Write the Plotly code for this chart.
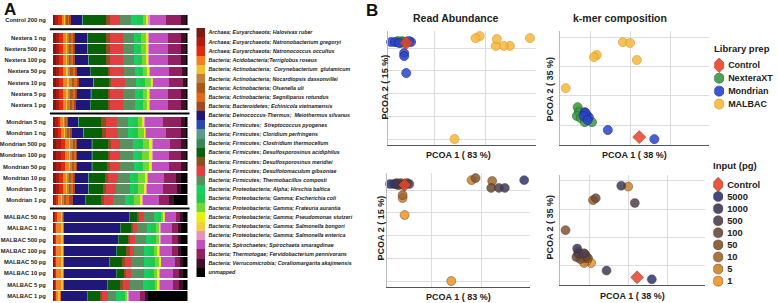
import plotly.graph_objects as go

W, H = 778, 303

# ---------------- data ----------------
samples = ["Control 200 ng",
           "Nextera 1 ng", "Nextera 500 pg", "Nextera 100 pg", "Nextera 50 pg", "Nextera 10 pg", "Nextera 5 pg", "Nextera 1 pg",
           "Mondrian 5 ng", "Mondrian 1 ng", "Mondrian 500 pg", "Mondrian 100 pg", "Mondrian 50 pg", "Mondrian 10 pg", "Mondrian 5 pg", "Mondrian 1 pg",
           "MALBAC 50 ng", "MALBAC 1 ng", "MALBAC 500 pg", "MALBAC 100 pg", "MALBAC 50 pg", "MALBAC 10 pg", "MALBAC 5 pg", "MALBAC 1 pg"]
sample_prep = ["Control"] + ["NexteraXT"] * 7 + ["Mondrian"] * 8 + ["MALBAC"] * 8
sample_input = ["Control", "1000", "500", "100", "50", "10", "5", "1",
                "5000", "1000", "500", "100", "50", "10", "5", "1",
                "5000", "1000", "500", "100", "50", "10", "5", "1"]
groups = [(0, 1), (1, 8), (8, 16), (16, 24)]

species = ["Archaea; Euryarchaeota; Halovivax ruber",
           "Archaea; Euryarchaeota; Natronobacterium gregoryi",
           "Archaea; Euryarchaeota; Natronococcus occultus",
           "Bacteria; Acidobacteria;Terriglobus roseus",
           "Bacteria; Actinobacteria;  Corynebacterium  glutamicum",
           "Bacteria; Actinobacteria; Nocardiopsis dassonvillei",
           "Bacteria; Actinobacteria; Olsenella uli",
           "Bacteria; Actinobacteria; Segniliparus rotundus",
           "Bacteria; Bacteroidetes; Echinicola vietnamensis",
           "Bacteria; Deinococcus-Thermus;  Meiothermus silvanus",
           "Bacteria; Firmicutes;  Streptococcus pyogenes",
           "Bacteria; Firmicutes; Cloridium perfringens",
           "Bacteria; Firmicutes; Clostridium thermocellum",
           "Bacteria; Firmicutes; Desulfosporosinus acidiphilus",
           "Bacteria; Firmicutes; Desulfosporosinus meridiei",
           "Bacteria; Firmicutes; Desulfotomaculum gibsoniae",
           "Bacteria; Firmicutes; Thermobacillus composti",
           "Bacteria; Proteobacteria; Alpha; Hirschia baltica",
           "Bacteria; Proteobacteria; Gamma; Escherichia coli",
           "Bacteria; Proteobacteria; Gamma; Frateuria aurantia",
           "Bacteria; Proteobacteria; Gamma; Pseudomonas stutzeri",
           "Bacteria; Proteobacteria; Gamma; Salmonella bongori",
           "Bacteria; Proteobacteria; Gamma; Salmonella enterica",
           "Bacteria; Spirochaetes; Spirochaeta smaragdinae",
           "Bacteria; Thermotogae; Fervidobacterium pennivorans",
           "Bacteria; Verrucomicrobia; Coraliomargarita akajimensis",
           "unmapped"]
species_colors = ["#7a1a10", "#b01a10", "#e02a10", "#f08020", "#f0c030", "#c08040", "#a85818",
                  "#e06818", "#a04828", "#201878", "#2848b0", "#5a9a88", "#3a8858", "#086008",
                  "#8a5020", "#e04040", "#5a9060", "#18d060", "#20c850", "#70d830", "#e8f010",
                  "#f0d040", "#e890c0", "#c050c0", "#902060", "#401028", "#000000"]

# relative read abundance per species, one value per sample (same order as samples)
halovivax = [7, 8, 8, 8, 8, 8, 8, 8, 7, 7, 10, 10, 10, 8, 8, 4, 5, 4, 4, 4, 4, 4, 4, 5]
natronobacterium = [10, 11, 11, 11, 12, 12, 12, 11, 8, 9, 14, 14, 14, 12, 12, 7, 3, 3, 3, 3, 3, 3, 3, 2]
natronococcus = [10, 11, 11, 11, 12, 12, 12, 11, 7, 9, 13, 13, 13, 12, 12, 6, 3, 3, 3, 3, 3, 3, 3, 3]
terriglobus = [8, 10, 10, 10, 10, 12, 10, 10, 10, 10, 13, 12, 12, 10, 10, 10, 14, 15, 15, 15, 15, 15, 15, 8]
corynebacterium = [3, 4, 4, 5, 5, 6, 5, 5, 2, 3, 4, 4, 4, 3, 3, 3, 5, 6, 6, 6, 6, 6, 6, 4]
nocardiopsis = [4, 5, 5, 5, 6, 7, 6, 6, 4, 5, 6, 6, 6, 5, 5, 4, 1, 1, 1, 1, 1, 1, 1, 1]
olsenella = [5, 6, 6, 6, 7, 8, 7, 7, 4, 6, 7, 7, 7, 7, 7, 5, 1, 1, 1, 1, 1, 1, 1, 1]
segniliparus = [4, 7, 7, 7, 7, 8, 7, 7, 3, 5, 3, 5, 5, 6, 6, 10, 1, 1, 1, 1, 1, 1, 1, 1]
echinicola = [3, 5, 5, 5, 5, 6, 5, 5, 2, 3, 2, 3, 3, 4, 4, 13, 0.5, 0.5, 0.5, 0.5, 0.5, 0.5, 0.5, 0.5]
meiothermus = [35, 37, 37, 39, 40, 43, 42, 42, 30, 35, 45, 43, 43, 40, 40, 35, 197, 170, 164, 157, 137, 157, 130, 78]
streptococcus = [1] * 16 + [0.5] * 8
cloridium = [1] * 16 + [0.5] * 8
clostridium = [1] * 24
d_acidiphilus = [68, 53, 55, 52, 52, 45, 50, 52, 67, 55, 47, 47, 45, 47, 42, 44, 22, 29, 27, 29, 36, 24, 36, 36]
d_meridiei = [14, 12, 10, 10, 7, 7, 5, 5, 13, 12, 10, 7, 7, 10, 8, 10, 7, 7, 5, 10, 10, 5, 10, 7]
desulfotomaculum = [30, 40, 40, 40, 40, 40, 40, 40, 34, 35, 25, 28, 30, 30, 32, 28, 15, 13, 17, 13, 18, 15, 20, 18]
thermobacillus = [33, 32, 32, 32, 33, 35, 35, 35, 33, 30, 40, 40, 42, 35, 40, 35, 30, 30, 33, 32, 40, 40, 40, 25]
hirschia = [17, 11, 11, 12, 12, 12, 12, 12, 15, 15, 15, 14, 14, 12, 12, 13, 10, 13, 15, 14, 16, 14, 18, 13]
escherichia = [18, 12, 12, 12, 13, 13, 13, 13, 15, 15, 15, 14, 14, 13, 13, 14, 10, 14, 15, 14, 16, 14, 19, 14]
frateuria = [12, 15, 15, 15, 15, 20, 15, 15, 15, 20, 20, 22, 20, 20, 17, 18, 8, 10, 10, 12, 13, 12, 8, 6]
pseudomonas = [4, 6, 6, 5, 5, 5, 5, 5, 5, 3, 8, 8, 7, 8, 8, 8, 4, 3, 3, 5, 5, 5, 5, 4]
s_bongori = [2, 2, 2, 2, 1, 1, 1, 1, 1, 1, 2, 1, 1, 1, 1, 1, 0.5, 0.5, 0.5, 0.5, 0.5, 0.5, 0.5, 0.5]
s_enterica = [3, 2, 2, 2, 1, 1, 1, 1, 1, 1, 2, 1, 1, 1, 1, 1, 1, 1, 1, 1, 1, 1, 1, 1]
spirochaeta = [49, 55, 55, 55, 56, 48, 53, 53, 53, 60, 50, 50, 49, 50, 50, 48, 32, 33, 33, 36, 41, 39, 39, 32]
fervidobacterium = [45, 40, 40, 40, 40, 40, 40, 40, 55, 45, 33, 35, 37, 35, 40, 32, 13, 18, 20, 18, 15, 20, 20, 15]
coraliomargarita = [15, 15, 15, 15, 12, 12, 15, 15, 13, 15, 15, 15, 15, 15, 13, 15, 7, 10, 8, 10, 8, 10, 10, 10]
unmapped = [5, 5, 5, 5, 5, 3, 5, 5, 7, 5, 5, 5, 5, 20, 20, 40, 15, 20, 20, 20, 15, 15, 15, 120]

abundances = [halovivax, natronobacterium, natronococcus, terriglobus, corynebacterium, nocardiopsis,
              olsenella, segniliparus, echinicola, meiothermus, streptococcus, cloridium, clostridium,
              d_acidiphilus, d_meridiei, desulfotomaculum, thermobacillus, hirschia, escherichia,
              frateuria, pseudomonas, s_bongori, s_enterica, spirochaeta, fervidobacterium,
              coraliomargarita, unmapped]

# PCoA coordinates (same sample order)
read_pc1 = [-0.109, -0.145, -0.133, -0.125, -0.117, -0.141, -0.129, -0.113,
            -0.168, -0.153, -0.090, -0.098, -0.137, -0.117, -0.117, -0.109,
            0.373, 0.295, 0.271, 0.240, 0.177, 0.244, 0.161, 0.079]
read_pc2 = [0.222, 0.226, 0.226, 0.230, 0.226, 0.230, 0.222, 0.222,
            0.226, 0.226, 0.226, 0.230, 0.222, 0.178, 0.165, 0.091,
            0.243, 0.209, 0.209, 0.209, 0.252, 0.239, 0.243, -0.196]
kmer_pc1 = [0.122, -0.033, -0.030, -0.035, -0.025, -0.013, -0.015, 0.003,
            0.160, 0.043, -0.015, -0.010, -0.005, -0.013, -0.018, -0.008,
            0.284, 0.081, 0.116, 0.015, -0.063, 0.008, 0.099, -0.030]
kmer_pc2 = [-0.041, 0.061, 0.044, 0.031, 0.024, 0.027, 0.010, 0.010,
            -0.048, -0.017, 0.044, 0.034, 0.027, 0.041, 0.031, 0.017,
            0.324, 0.283, 0.222, 0.239, 0.126, 0.232, 0.280, 0.051]

prep_levels = ["Control", "NexteraXT", "Mondrian", "MALBAC"]
prep_colors = {"Control": "#e8442a", "NexteraXT": "#3a9a44", "Mondrian": "#2b45c8", "MALBAC": "#f6b93b"}
prep_lines = {"Control": "#c03020", "NexteraXT": "#2a6a2a", "Mondrian": "#1a2a90", "MALBAC": "#d9982a"}
input_levels = ["Control", "5000", "1000", "500", "100", "50", "10", "5", "1"]
input_colors = {"Control": "#e8442a", "5000": "#2f3570", "1000": "#3e3a5a", "500": "#4f3f4e",
                "100": "#6b4a35", "50": "#7f5530", "10": "#a0652a", "5": "#cc8228", "1": "#f09522"}

FONT = "Liberation Sans, Arial, sans-serif"


def fx(x):
    return x / W


def fy(y):
    return 1 - y / H


fig = go.Figure()
layout = dict(width=W, height=H, margin=dict(l=0, r=0, t=0, b=0),
              paper_bgcolor="white", plot_bgcolor="white", showlegend=False,
              barmode="stack", barnorm="percent", bargap=0.14,
              font=dict(family=FONT, color="#222"))

# ---------------- panel A: stacked bars ----------------
group_px = [(14.4, 25.6), (32.1, 110.6), (116.4, 205.6), (211.4, 301.6)]
for gi, ((a, b), (top, bot)) in enumerate(zip(groups, group_px)):
    k = gi + 1
    rows = samples[a:b]
    for sp, col, vals in zip(species, species_colors, abundances):
        fig.add_trace(go.Bar(x=vals[a:b], y=rows, orientation="h", name=sp,
                             marker=dict(color=col, line=dict(width=0)),
                             xaxis=f"x{k}", yaxis=f"y{k}"))
    layout[f"xaxis{k}"] = dict(domain=[fx(51), fx(186)], range=[0, 100], visible=False, anchor=f"y{k}")
    layout[f"yaxis{k}"] = dict(domain=[fy(bot), fy(top)], type="category", categoryarray=rows,
                               autorange="reversed", anchor=f"x{k}", ticks="", showgrid=False,
                               showline=False, zeroline=False, ticklabelstandoff=6,
                               tickfont=dict(size=5.8, family=FONT, weight="bold", color="#222"))

# species legend as a colour column with labels
fig.add_trace(go.Bar(x=[1] * len(species), y=species, orientation="h", width=1,
                     marker=dict(color=species_colors, line=dict(width=0)),
                     xaxis="x5", yaxis="y5"))
layout["xaxis5"] = dict(domain=[fx(195), fx(204)], range=[0, 100], visible=False, anchor="y5")
layout["yaxis5"] = dict(domain=[fy(277), fy(28)], type="category", categoryarray=species,
                        autorange="reversed", anchor="x5", side="right", ticks="", showgrid=False,
                        showline=False, zeroline=False, ticklabelstandoff=2,
                        tickfont=dict(size=5.3, family=FONT, weight="bold", style="italic", color="#222"))

seps = [29.3, 113.4, 208.4]
shapes = [dict(type="line", xref="paper", yref="paper", x0=fx(48), x1=fx(188), y0=fy(s), y1=fy(s),
               line=dict(color="black", width=2)) for s in seps]

# ---------------- panel B: PCoA scatters ----------------
scat = {
    6: dict(dx=(387, 535), dy=(31, 145), xr=[-0.18, 0.395], yr=[-0.222, 0.274], dxt=0.2, x=read_pc1, y=read_pc2, by="prep"),
    7: dict(dx=(559, 709), dy=(31, 145), xr=[-0.0785, 0.298], yr=[-0.068, 0.321], dxt=0.1, x=kmer_pc1, y=kmer_pc2, by="prep"),
    8: dict(dx=(386, 529), dy=(173, 287), xr=[-0.18, 0.395], yr=[-0.222, 0.274], dxt=0.2, x=read_pc1, y=read_pc2, by="input"),
    9: dict(dx=(559, 705), dy=(175, 285), xr=[-0.0785, 0.298], yr=[-0.068, 0.321], dxt=0.1, x=kmer_pc1, y=kmer_pc2, by="input"),
}
for k, s in scat.items():
    if s["by"] == "prep":
        order = ["MALBAC", "NexteraXT", "Mondrian", "Control"]
        labels, cmap = sample_prep, prep_colors
    else:
        order = ["1", "5", "10", "50", "100", "500", "1000", "5000", "Control"]
        labels, cmap = sample_input, input_colors
    for lev in order:
        idx = [i for i, l in enumerate(labels) if l == lev]
        lc = prep_lines.get(lev, "#555") if s["by"] == "prep" else "rgba(60,40,30,0.6)"
        fig.add_trace(go.Scatter(
            x=[s["x"][i] for i in idx], y=[s["y"][i] for i in idx], mode="markers", name=lev,
            marker=dict(size=9 if lev != "Control" else 10, symbol="diamond" if lev == "Control" else "circle",
                        color=cmap[lev], opacity=0.85, line=dict(width=0.8, color=lc)),
            cliponaxis=False, xaxis=f"x{k}", yaxis=f"y{k}"))
    layout[f"xaxis{k}"] = dict(domain=[fx(s["dx"][0]), fx(s["dx"][1])], range=s["xr"], anchor=f"y{k}",
                               dtick=s["dxt"], tick0=0, showticklabels=False, ticks="",
                               showgrid=True, gridcolor="#dddddd", gridwidth=1, zeroline=False,
                               showline=True, linecolor="#555", linewidth=1.3)
    layout[f"yaxis{k}"] = dict(domain=[fy(s["dy"][1]), fy(s["dy"][0])], range=s["yr"], anchor=f"x{k}",
                               dtick=0.1, tick0=0, showticklabels=False, ticks="",
                               showgrid=True, gridcolor="#dddddd", gridwidth=1, zeroline=False,
                               showline=True, linecolor="#bbbbbb", linewidth=1)

# legends for panel B
fig.add_trace(go.Scatter(x=[0] * 4, y=prep_levels, mode="markers",
                         marker=dict(size=[11, 10, 10, 10], symbol=["diamond", "circle", "circle", "circle"],
                                     color=[prep_colors[p] for p in prep_levels], opacity=0.9,
                                     line=dict(width=0.8, color=[prep_lines[p] for p in prep_levels])),
                         xaxis="x10", yaxis="y10"))
layout["xaxis10"] = dict(domain=[fx(714), fx(724)], range=[-1, 1], visible=False, anchor="y10")
layout["yaxis10"] = dict(domain=[fy(113.2), fy(55.5)], type="category", categoryarray=prep_levels,
                         autorange="reversed", anchor="x10", side="right", ticks="", showgrid=False,
                         showline=False, zeroline=False, ticklabelstandoff=3,
                         tickfont=dict(size=9, family=FONT, weight="bold", color="#222"))

fig.add_trace(go.Scatter(x=[0] * len(input_levels), y=input_levels, mode="markers",
                         marker=dict(size=[11] + [10] * 8, symbol=["diamond"] + ["circle"] * 8,
                                     color=[input_colors[p] for p in input_levels], opacity=0.9,
                                     line=dict(width=0.8, color="rgba(60,40,30,0.6)")),
                         xaxis="x11", yaxis="y11"))
layout["xaxis11"] = dict(domain=[fx(713), fx(723)], range=[-1, 1], visible=False, anchor="y11")
layout["yaxis11"] = dict(domain=[fy(293.5), fy(171.5)], type="category", categoryarray=input_levels,
                         autorange="reversed", anchor="x11", side="right", ticks="", showgrid=False,
                         showline=False, zeroline=False, ticklabelstandoff=3,
                         tickfont=dict(size=9.3, family=FONT, weight="bold", color="#222"))

# ---------------- text ----------------
def ann(text, x, y, size, angle=0, xanchor="center", color="#222"):
    return dict(text=text, x=fx(x), y=fy(y), xref="paper", yref="paper", showarrow=False,
                xanchor=xanchor, yanchor="middle", textangle=angle,
                font=dict(size=size, family=FONT, weight="bold", color=color))


annotations = [
    ann("A", 8, 9, 17, color="#111"),
    ann("B", 371, 11, 17, color="#111"),
    ann("Read Abundance", 455, 18, 10.5),
    ann("k-mer composition", 620, 18, 10.5),
    ann("PCOA 1 ( 83 %)", 458, 155, 9),
    ann("PCOA 1 ( 83 %)", 458, 296.5, 9),
    ann("PCOA 1 ( 38 %)", 634, 155, 9),
    ann("PCOA 1 ( 38 %)", 632, 295.5, 9),
    ann("PCOA 2 ( 15 %)", 383.5, 87, 9, angle=-90),
    ann("PCOA 2 ( 15 %)", 379.5, 228, 9, angle=-90),
    ann("PCOA 2 ( 35 %)", 549, 89, 9, angle=-90),
    ann("PCOA 2 ( 35 %)", 549, 227, 9, angle=-90),
    ann("Library prep", 712, 49, 9.5, xanchor="left"),
    ann("Input (pg)", 711, 165, 9.5, xanchor="left"),
]
layout["annotations"] = annotations
layout["shapes"] = shapes

fig.update_layout(**layout)
fig.write_html("out.html", config={"displayModeBar": False},
               post_script="document.body.style.margin='0';document.body.style.overflow='hidden';")
